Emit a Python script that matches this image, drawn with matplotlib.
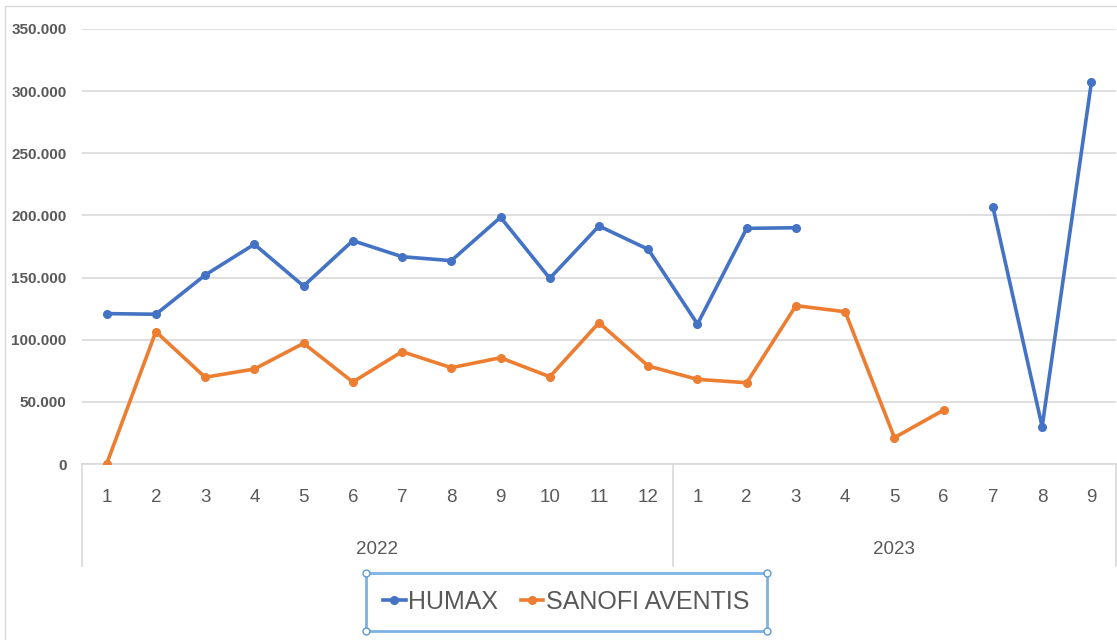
import numpy as np
import matplotlib
matplotlib.use('Agg')
import matplotlib.pyplot as plt
import matplotlib.transforms as mtransforms
from matplotlib.patches import Rectangle
from matplotlib.lines import Line2D

plt.rcParams['font.family'] = ['Liberation Sans Narrow', 'Liberation Sans', 'DejaVu Sans']

# ---------------- data ----------------
years = ['2022', '2023']
months_2022 = [1, 2, 3, 4, 5, 6, 7, 8, 9, 10, 11, 12]
months_2023 = [1, 2, 3, 4, 5, 6, 7, 8, 9]
nan = np.nan
humax = [121000, 120500, 152000, 176800, 143200, 179700, 166800, 163600, 198500,
         149400, 191500, 172700,
         112600, 189600, 190100, nan, nan, nan, 206800, 30000, 307100]
sanofi = [0, 106500, 69800, 76400, 97100, 66000, 90400, 77500, 85500,
          70200, 113700, 78800,
          68100, 65400, 127400, 122500, 21200, 43400, nan, nan, nan]
yticks = [0, 50000, 100000, 150000, 200000, 250000, 300000, 350000]

month_labels = [str(m) for m in months_2022] + [str(m) for m in months_2023]
x = np.arange(len(month_labels))

# ---------------- figure ----------------
fig = plt.figure(figsize=(11.17, 6.4), dpi=100)
W, H = 1117, 640
ax = fig.add_axes([82 / W, 1 - 464 / H, (1116 - 82) / W, (464 - 29) / H])

gray_txt = '#595959'
grid_c = '#d9d9d9'

ax.plot(x, humax, color='#4472C4', lw=2.6, marker='o', ms=5.5, label='HUMAX', zorder=3)
ax.plot(x, sanofi, color='#ED7D31', lw=2.6, marker='o', ms=5.5, label='SANOFI AVENTIS', zorder=3)

ax.set_xlim(-0.5, len(x) - 0.5)
ax.set_ylim(0, 350000)
ax.set_yticks(yticks)
ax.set_yticklabels(['0' if v == 0 else f'{v:,}'.replace(',', '.') for v in yticks],
                   fontsize=11, fontweight='bold', color=gray_txt)
ax.tick_params(axis='y', length=0, pad=11)
ax.set_xticks([])
ax.grid(axis='y', color=grid_c, lw=1.2)
ax.set_axisbelow(True)
for s in ['top', 'right', 'left']:
    ax.spines[s].set_visible(False)
ax.spines['bottom'].set_color(grid_c)
ax.spines['bottom'].set_linewidth(1.2)

# multi-level category axis
trans = mtransforms.blended_transform_factory(ax.transData, ax.transAxes)
px = 1 / (464 - 29)
for i, lab in enumerate(month_labels):
    ax.text(x[i], -34 * px, lab, transform=trans, ha='center', va='center',
            fontsize=13.5, color=gray_txt, clip_on=False)
n22 = len(months_2022)
ax.text((n22 - 1) / 2, -86 * px, years[0], transform=trans, ha='center', va='center',
        fontsize=13.5, color=gray_txt, clip_on=False)
ax.text(n22 + (len(months_2023) - 1) / 2, -86 * px, years[1], transform=trans,
        ha='center', va='center', fontsize=13.5, color=gray_txt, clip_on=False)
for xv in [-0.5, n22 - 0.5, len(x) - 0.5]:
    ax.plot([xv, xv], [0, -102 * px], transform=trans, color=grid_c, lw=1.2, clip_on=False)

# legend
leg = fig.legend(loc='center', bbox_to_anchor=(566 / W, 1 - 602 / H), ncol=2, frameon=False,
                 fontsize=18, handlelength=0.9, handletextpad=0.1, columnspacing=0.9,
                 labelcolor=gray_txt)

# legend selection box
x0, x1, y0, y1 = 366 / W, 767 / W, 1 - 631 / H, 1 - 573 / H
fig.patches.append(Rectangle((x0, y0), x1 - x0, y1 - y0, transform=fig.transFigure,
                             fill=False, ec='#7fb2e5', lw=2))
for cx, cy in [(x0, y0), (x1, y0), (x0, y1), (x1, y1)]:
    fig.lines.append(Line2D([cx], [cy], transform=fig.transFigure, marker='o', ms=5,
                            mfc='white', mec='#5b9bd5', mew=1))

# outer chart border
fig.patches.append(Rectangle((5 / W, -0.1), 1.2, 1.1 - 6 / H, transform=fig.transFigure,
                             fill=False, ec=grid_c, lw=1))

fig.savefig('out.png', dpi=100)
